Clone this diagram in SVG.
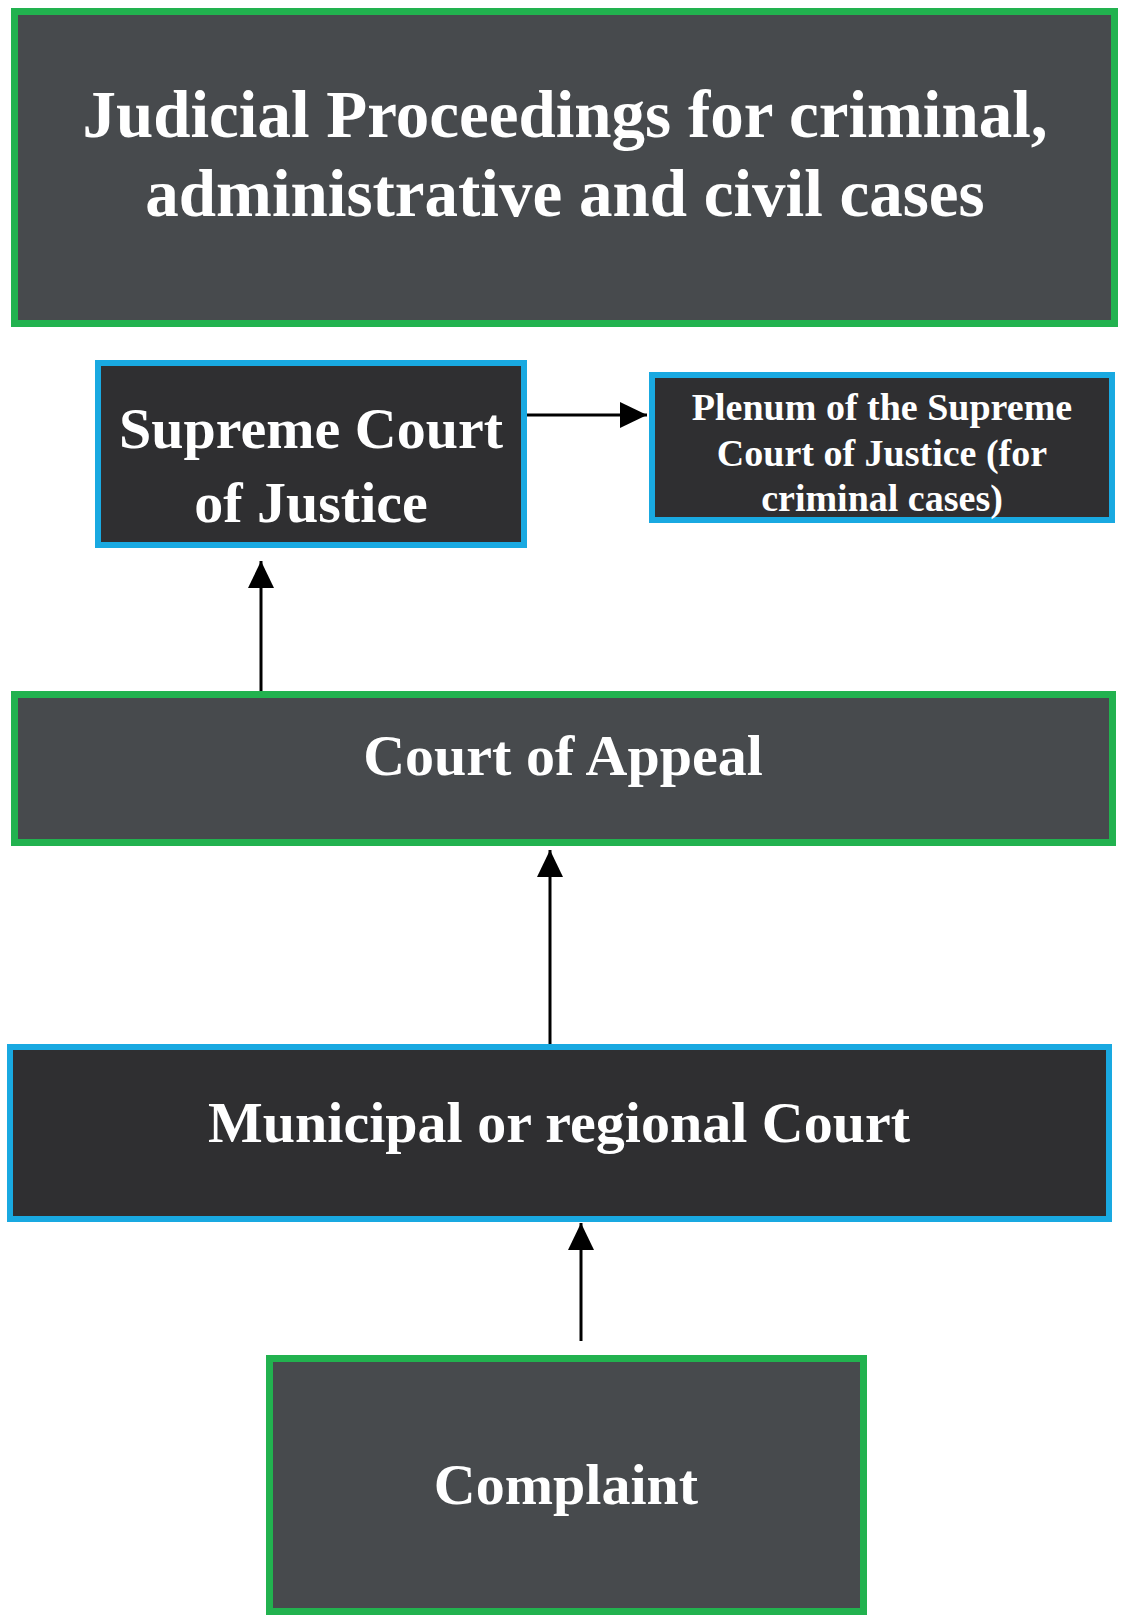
<svg xmlns="http://www.w3.org/2000/svg" width="1123" height="1615" viewBox="0 0 1123 1615">
  <style>
    .green { fill: #474a4d; stroke: #22b24f; stroke-width: 7; }
    .blue { fill: #2f2f31; stroke: #19a9e1; stroke-width: 6; }
    .t { font-family: "Liberation Serif", "Times New Roman", serif; font-weight: bold; fill: #ffffff; text-anchor: middle; }
    .conn { stroke: #000000; stroke-width: 3; fill: none; }
  </style>
  <defs>
    <marker id="ah" markerUnits="userSpaceOnUse" markerWidth="28" markerHeight="26" refX="27" refY="13" orient="auto">
      <path d="M0,0 L27,13 L0,26 z" fill="#000000"/>
    </marker>
  </defs>
  <rect x="0" y="0" width="1123" height="1615" fill="#ffffff"/>

  <g id="title">
    <rect class="green" x="14.5" y="11.5" width="1100" height="312"/>
    <text class="t" x="565" y="137" font-size="67">Judicial Proceedings for criminal,</text>
    <text class="t" x="565" y="216" font-size="67">administrative and civil cases</text>
  </g>

  <g id="supreme">
    <rect class="blue" x="98" y="363" width="426" height="182"/>
    <text class="t" x="311" y="448" font-size="58">Supreme Court</text>
    <text class="t" x="311" y="522" font-size="58">of Justice</text>
  </g>

  <g id="plenum">
    <rect class="blue" x="652" y="375" width="460" height="145"/>
    <text class="t" x="882" y="420" font-size="38">Plenum of the Supreme</text>
    <text class="t" x="882" y="466" font-size="38">Court of Justice (for</text>
    <text class="t" x="882" y="511" font-size="38">criminal cases)</text>
  </g>

  <g id="appeal">
    <rect class="green" x="14.5" y="694.5" width="1098" height="148"/>
    <text class="t" x="563" y="775" font-size="58">Court of Appeal</text>
  </g>

  <g id="municipal">
    <rect class="blue" x="10" y="1047" width="1099" height="172"/>
    <text class="t" x="559" y="1142" font-size="58">Municipal or regional Court</text>
  </g>

  <g id="complaint">
    <rect class="green" x="269.5" y="1358.5" width="594" height="253"/>
    <text class="t" x="566" y="1504" font-size="58">Complaint</text>
  </g>

  <g id="connectors">
    <line class="conn" x1="527" y1="415" x2="647" y2="415" marker-end="url(#ah)"/>
    <line class="conn" x1="261" y1="691" x2="261" y2="561" marker-end="url(#ah)"/>
    <line class="conn" x1="550" y1="1044" x2="550" y2="850" marker-end="url(#ah)"/>
    <line class="conn" x1="581" y1="1341" x2="581" y2="1223" marker-end="url(#ah)"/>
  </g>
</svg>
